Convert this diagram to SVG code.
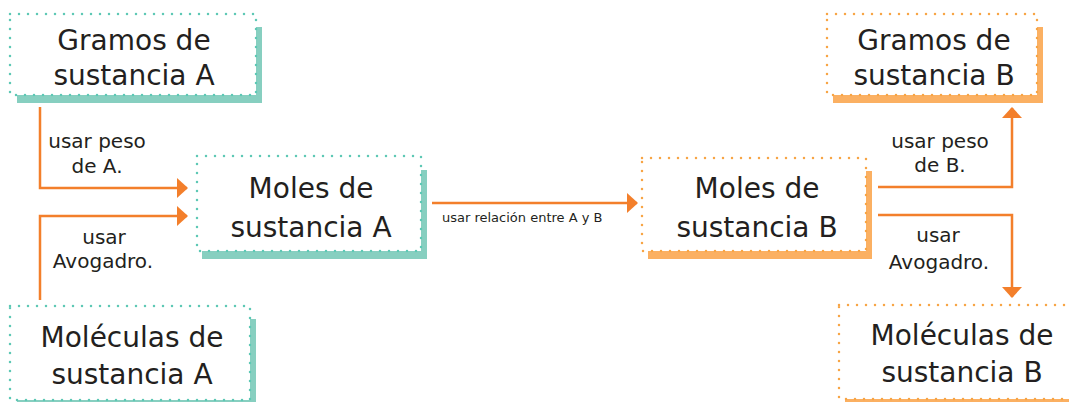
<svg xmlns="http://www.w3.org/2000/svg" width="1069" height="402" viewBox="0 0 1069 402">
<style>
.t{font-family:"DejaVu Sans","Liberation Sans",sans-serif;font-size:28px;fill:#231f20;text-anchor:middle}
.l{font-family:"DejaVu Sans","Liberation Sans",sans-serif;font-size:20px;fill:#231f20;text-anchor:middle}
.s{font-family:"DejaVu Sans","Liberation Sans",sans-serif;font-size:13px;fill:#231f20}
.ta{fill:#87cfc0}
.oa{fill:#fbb062}
.bt{fill:#fff;stroke:#5ec8b5;stroke-width:2.5;stroke-dasharray:0 9;stroke-linecap:round}
.bo{fill:#fff;stroke:#f7a545;stroke-width:2.5;stroke-dasharray:0 9;stroke-linecap:round}
.c{fill:none;stroke:#f37f2b;stroke-width:2.5;marker-end:url(#ah)}
</style>
<defs>
<marker id="ah" markerUnits="userSpaceOnUse" markerWidth="11" markerHeight="20" viewBox="0 0 11 20" refX="10" refY="10" orient="auto">
<path d="M0,0 L11,10 L0,20 z" fill="#f37f2b"/>
</marker>
</defs>
<rect width="1069" height="402" fill="#fff"/>
<g id="connectors">
<path class="c" d="M40,107 V188 H187"/>
<path class="c" d="M40,300 V216 H187"/>
<path class="c" d="M432,203 H637"/>
<path class="c" d="M878,187 H1012 V108"/>
<path class="c" d="M878,215 H1012 V297"/>
<text class="l" x="97" y="148">usar peso</text>
<text class="l" x="97" y="173">de A.</text>
<text class="l" x="104" y="244">usar</text>
<text class="l" x="103" y="268">Avogadro.</text>
<text class="s" x="442" y="222">usar relación entre A y B</text>
<text class="l" x="940" y="148">usar peso</text>
<text class="l" x="940" y="172">de B.</text>
<text class="l" x="938" y="242">usar</text>
<text class="l" x="939" y="269">Avogadro.</text>
</g>
<g id="gramos-a">
<rect class="ta" x="17" y="27" width="245" height="76"/>
<rect class="bt" x="10" y="14" width="246" height="81"/>
<text class="t" x="134" y="50">Gramos de</text>
<text class="t" x="134" y="85">sustancia A</text>
</g>
<g id="moles-a">
<rect class="ta" x="202" y="170" width="225" height="89"/>
<rect class="bt" x="197" y="156" width="224" height="95"/>
<text class="t" x="311" y="198">Moles de</text>
<text class="t" x="311" y="237">sustancia A</text>
</g>
<g id="moleculas-a">
<rect class="ta" x="17" y="319" width="239" height="90"/>
<rect class="bt" x="10" y="306" width="240" height="94"/>
<text class="t" x="132" y="347">Moléculas de</text>
<text class="t" x="132" y="384">sustancia A</text>
</g>
<g id="moles-b">
<rect class="oa" x="648" y="171" width="224" height="88"/>
<rect class="bo" x="642" y="158" width="224" height="93"/>
<text class="t" x="757" y="198">Moles de</text>
<text class="t" x="757" y="237">sustancia B</text>
</g>
<g id="gramos-b">
<rect class="oa" x="833" y="27" width="210" height="76"/>
<rect class="bo" x="827" y="14" width="210" height="81"/>
<text class="t" x="934" y="50">Gramos de</text>
<text class="t" x="934" y="85">sustancia B</text>
</g>
<g id="moleculas-b">
<rect class="oa" x="845" y="318" width="240" height="90"/>
<rect class="bo" x="839" y="305" width="240" height="94"/>
<text class="t" x="962" y="345">Moléculas de</text>
<text class="t" x="962" y="382">sustancia B</text>
</g>
</svg>
